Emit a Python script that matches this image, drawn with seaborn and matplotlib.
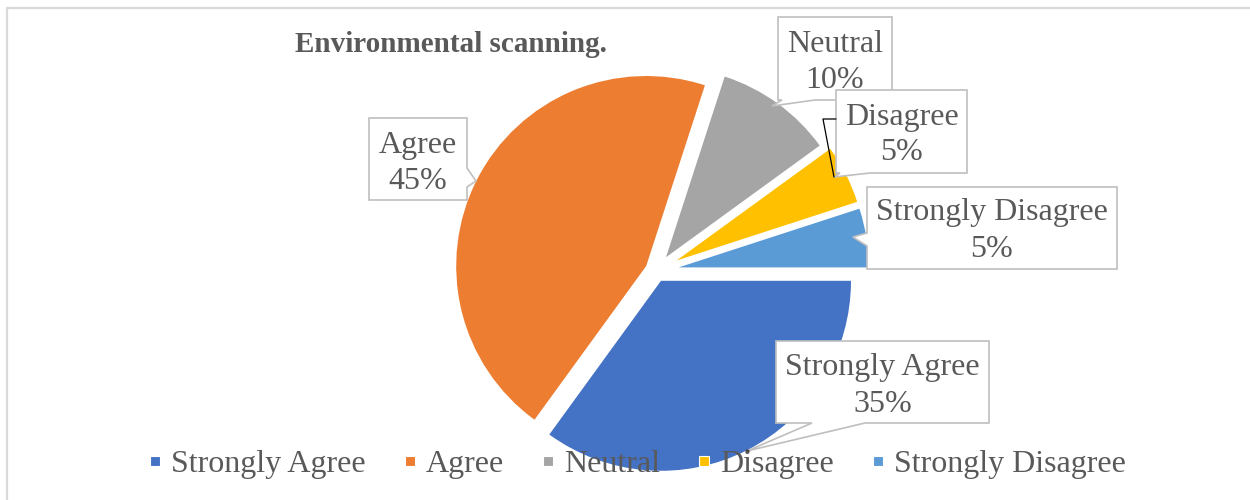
import matplotlib
matplotlib.use("Agg")
import matplotlib.pyplot as plt
from matplotlib.patches import Polygon
from matplotlib.lines import Line2D
import seaborn as sns

# Survey responses
categories = ["Strongly Agree", "Agree", "Neutral", "Disagree", "Strongly Disagree"]
shares = [35, 45, 10, 5, 5]
slice_colors = ["#4472C4", "#ED7D31", "#A5A5A5", "#FFC000", "#5B9BD5"]
title_text = "Environmental scanning."

sns.set_theme(style="white")
plt.rcParams["font.family"] = ["Liberation Serif", "DejaVu Serif"]
palette = sns.color_palette(slice_colors)

TEXT = "#595959"
EDGE = "#BFBFBF"
W, H = 1250, 500

fig = plt.figure(figsize=(W / 100, H / 100), dpi=100)
ax = fig.add_axes([0, 0, 1, 1])


def px(x, y):
    """Canvas position measured from the top-left corner."""
    return (x, H - y)


# Exploded pie, first slice starting at 3 o'clock and running clockwise
cx, cy = px(656, 271)
wedges, _ = ax.pie(
    shares, colors=palette, startangle=0, counterclock=False,
    explode=[11, 11, 17, 23, 23], radius=190, center=(cx, cy),
    wedgeprops=dict(linewidth=0),
)
ax.set_xlim(0, W)
ax.set_ylim(0, H)
ax.set_aspect("equal")
ax.axis("off")

# Chart frame (left and top edges fall inside the canvas)
fx, fy = 7 / W, 1 - 7.5 / H
fig.add_artist(Line2D([fx, fx], [0, fy], color="#D9D9D9", lw=1.6))
fig.add_artist(Line2D([fx, 1], [fy, fy], color="#D9D9D9", lw=1.6))

ax.text(*px(451, 52), title_text, ha="center", va="baseline",
        fontsize=21, fontweight="bold", color=TEXT)


def callout(box, side, a, b, tip):
    x0, y0, x1, y1 = box
    pts = [(x0, y0)]
    if side == "top":
        pts += [(a, y0), tip, (b, y0)]
    pts.append((x1, y0))
    if side == "right":
        pts += [(x1, a), tip, (x1, b)]
    pts.append((x1, y1))
    if side == "bottom":
        pts += [(b, y1), tip, (a, y1)]
    pts.append((x0, y1))
    if side == "left":
        pts += [(x0, b), tip, (x0, a)]
    poly = Polygon([px(*p) for p in pts], closed=True, fc="white",
                   ec=EDGE, lw=1.2, zorder=3, joinstyle="miter")
    ax.add_patch(poly)


# Data-label callouts: box, pointer side, notch span, pointer tip, line baselines
label_layout = {
    "Strongly Agree": ((776, 341, 989, 423), "bottom", 812, 865, (747, 451), (375, 412)),
    "Agree": ((369, 118, 467, 200), "right", 168, 187, (476, 181), (153, 189)),
    "Neutral": ((778, 17, 892, 100), "bottom", 782, 815, (772, 106), (52, 88)),
    "Disagree": ((836, 90, 967, 173), "bottom", 840, 870, (834, 177), (125, 160)),
    "Strongly Disagree": ((867, 187, 1117, 269), "left", 233, 246, (853, 237), (220, 257)),
}

# Leader line for the small Disagree slice
ax.plot(*zip(px(836, 119), px(823, 119), px(834, 177)), color="black", lw=0.9, zorder=4)

for cat, val in zip(categories, shares):
    box, side, a, b, tip, (b1, b2) = label_layout[cat]
    callout(box, side, a, b, tip)
    xc = (box[0] + box[2]) / 2
    ax.text(*px(xc, b1), cat, ha="center", va="baseline", fontsize=23, color=TEXT, zorder=5)
    ax.text(*px(xc, b2), f"{val}%", ha="center", va="baseline", fontsize=23, color=TEXT, zorder=5)

ax.plot(*px(747, 451), marker="o", ms=2, color="#404040", zorder=5)

handles = [Line2D([], [], marker="s", linestyle="none", markersize=7.4,
                  markerfacecolor=c, markeredgecolor="white", markeredgewidth=0.8)
           for c in palette]
ax.legend(handles, categories, loc="center", bbox_to_anchor=(637.5 / W, 36 / H),
          ncol=5, frameon=False, fontsize=23, handlelength=0.4, handletextpad=0.3,
          columnspacing=1.18, labelcolor=TEXT, borderaxespad=0, borderpad=0)

fig.savefig("out.png", dpi=100, facecolor="white")
